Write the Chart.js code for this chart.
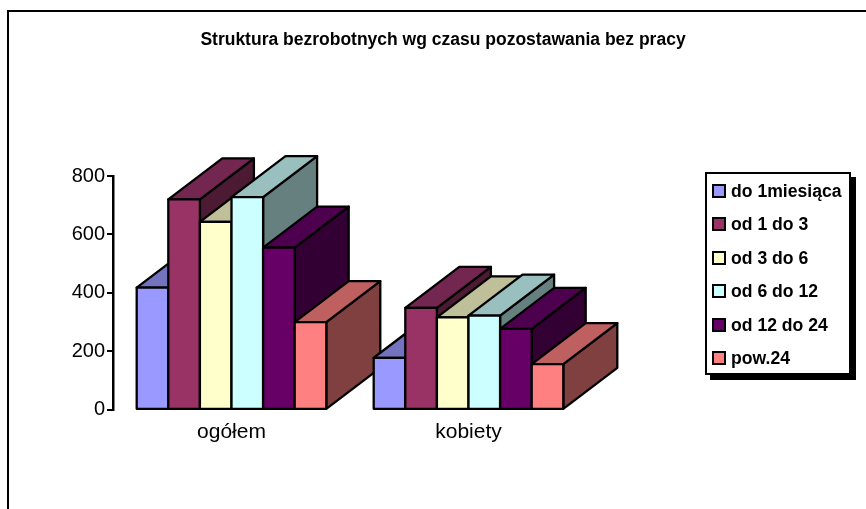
<!DOCTYPE html>
<html lang="pl">
<head>
<meta charset="UTF-8" />
<title>Struktura bezrobotnych</title>
<script src="https://cdn.jsdelivr.net/npm/chart.js"></script>
<style>
  html, body { margin: 0; padding: 0; background: #fff; }
  #wrap { position: relative; width: 866px; height: 509px; overflow: hidden; }
  #frame { position: absolute; left: 7px; top: 10px; width: 900px; height: 540px; border: 2px solid #000; }
  #legend { position: absolute; left: 705px; top: 172px; width: 146px; height: 203px; box-sizing: border-box;
    border: 2px solid #000; background: #fff; box-shadow: 5px 5px 0 #000;
    font: bold 17.6px "Liberation Sans", Arial, sans-serif; color: #000; }
  #legend div { position: absolute; left: 5px; height: 20px; line-height: 20px; white-space: nowrap; }
  #legend span { display: inline-block; width: 10px; height: 10px; border: 2.5px solid #000; margin-right: 5px; vertical-align: -1px; }
</style>
</head>
<body>
<div id="wrap">
  <div id="frame"></div>
  <canvas id="chart" width="866" height="509" style="position:absolute;left:0;top:0"></canvas>
  <div id="legend"></div>
</div>

<script>
  const titleText = "Struktura bezrobotnych wg czasu pozostawania bez pracy";
  const categories = ["ogółem", "kobiety"];
  const seriesNames = ["do 1miesiąca", "od 1 do 3", "od 3 do 6", "od 6 do 12", "od 12 do 24", "pow.24"];
  const doMiesiaca = [418, 178];
  const od1do3 = [720, 349];
  const od3do6 = [643, 316];
  const od6do12 = [728, 322];
  const od12do24 = [555, 277];
  const pow24 = [300, 156];
  const seriesValues = [doMiesiaca, od1do3, od3do6, od6do12, od12do24, pow24];
  const frontColors = ["#9999FF", "#993366", "#FFFFCC", "#CCFFFF", "#660066", "#FF8080"];
  const topColors = ["#7373BF", "#732650", "#BFBF99", "#99BFBF", "#4D004D", "#BF6060"];
  const sideColors = ["#4D4D80", "#4D1A33", "#808066", "#668080", "#330033", "#804040"];

  // how far the box goes back, px
  const depthX = 54;
  const depthY = 41;

  function face(ctx, points, color) {
    ctx.beginPath();
    ctx.moveTo(points[0][0], points[0][1]);
    for (let i = 1; i < points.length; i++) ctx.lineTo(points[i][0], points[i][1]);
    ctx.closePath();
    ctx.fillStyle = color;
    ctx.fill();
    ctx.stroke();
  }

  // draws boxes category by category so the later ones sit on top
  const boxes3d = {
    id: "boxes3d",
    afterLayout(chart) {
      // title is centred on the whole page, not on the padded plot
      chart.titleBlock.left = 0;
      chart.titleBlock.right = 886;
      chart.titleBlock.width = 886;
    },
    beforeDatasetsDraw(chart) {
      const ctx = chart.ctx;
      ctx.save();
      ctx.strokeStyle = "#000";
      ctx.lineWidth = 2.3;
      ctx.lineJoin = "round";
      categories.forEach((c, i) => {
        seriesValues.forEach((s, d) => {
          const bar = chart.getDatasetMeta(d).data[i];
          const l = bar.x - bar.width / 2, r = bar.x + bar.width / 2;
          const t = bar.y, b = bar.base;
          face(ctx, [[r, b], [r + depthX, b - depthY], [r + depthX, t - depthY], [r, t]], sideColors[d]);
          face(ctx, [[l, t], [l + depthX, t - depthY], [r + depthX, t - depthY], [r, t]], topColors[d]);
          face(ctx, [[l, t], [r, t], [r, b], [l, b]], frontColors[d]);
        });
      });
      ctx.restore();
      return false;
    }
  };

  new Chart(document.getElementById("chart"), {
    type: "bar",
    data: {
      labels: categories,
      datasets: seriesNames.map((name, d) => ({
        label: name,
        data: seriesValues[d],
        backgroundColor: frontColors[d],
        categoryPercentage: 0.8,
        barPercentage: 1
      }))
    },
    options: {
      responsive: false,
      animation: false,
      layout: { padding: { left: 0, top: 0, right: 279, bottom: 54 } },
      plugins: {
        legend: { display: false },
        tooltip: { enabled: false },
        title: {
          display: true,
          text: titleText,
          color: "#000",
          font: { family: "'Liberation Sans', Arial, sans-serif", size: 17.5, weight: "bold" },
          padding: { top: 30, bottom: 125 }
        }
      },
      scales: {
        x: {
          grid: { display: false, drawTicks: false },
          border: { display: false },
          ticks: { color: "#000", font: { family: "'Liberation Sans', Arial, sans-serif", size: 21 }, padding: 10 }
        },
        y: {
          min: 0,
          max: 800,
          afterFit(axis) { axis.width = 113; },
          grid: { drawOnChartArea: false, color: "#000", lineWidth: 2, tickLength: 6 },
          border: { display: true, color: "#000", width: 2.5 },
          ticks: { stepSize: 200, color: "#000", font: { family: "'Liberation Sans', Arial, sans-serif", size: 20 }, padding: 2 }
        }
      }
    },
    plugins: [boxes3d]
  });

  // legend box
  const legendEl = document.getElementById("legend");
  seriesNames.forEach((name, d) => {
    const row = document.createElement("div");
    row.style.top = (7 + d * 33.4) + "px";
    const swatch = document.createElement("span");
    swatch.style.background = frontColors[d];
    row.appendChild(swatch);
    row.appendChild(document.createTextNode(name));
    legendEl.appendChild(row);
  });
</script>
</body>
</html>
